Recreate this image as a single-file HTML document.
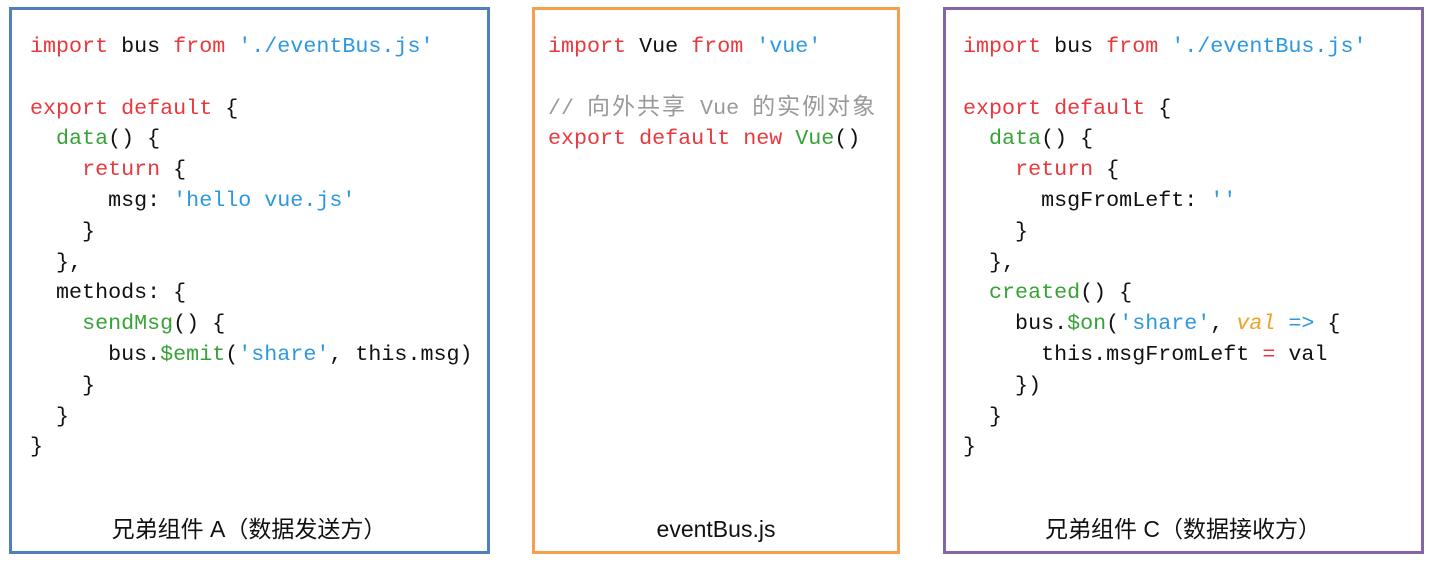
<!DOCTYPE html>
<html><head><meta charset="utf-8"><style>
body{margin:0;width:1430px;height:565px;background:#fff;position:relative;overflow:hidden}
.box{position:absolute;box-sizing:border-box;border:3px solid;}
pre{position:absolute;margin:0;font-family:"Liberation Mono","Noto Sans CJK SC",monospace;font-size:21.7px;line-height:30.8px;color:#111}
.lab{position:absolute;font-family:"Liberation Sans","Noto Sans CJK SC",sans-serif;font-size:23px;line-height:30px;height:30px;color:#111;text-align:center;top:514px}
.r{color:#e8383d}.b{color:#2b98e0}.g{color:#36a336}.o{color:#f0a020;font-style:italic}.c{color:#999}
.cj{letter-spacing:2px;font-size:23px;line-height:20px}
</style></head><body>
<div class="box" style="left:9px;top:7px;width:481px;height:547px;border-color:#4f7fbf"></div>
<div class="box" style="left:532px;top:7px;width:368px;height:547px;border-color:#f4a050"></div>
<div class="box" style="left:943px;top:7px;width:481px;height:547px;border-color:#8466a8"></div>

<pre style="left:30px;top:32px"><span class="r">import</span> bus <span class="r">from</span> <span class="b">'./eventBus.js'</span>

<span class="r">export default</span> {
  <span class="g">data</span>() {
    <span class="r">return</span> {
      msg: <span class="b">'hello vue.js'</span>
    }
  },
  methods: {
    <span class="g">sendMsg</span>() {
      bus.<span class="g">$emit</span>(<span class="b">'share'</span>, this.msg)
    }
  }
}</pre>

<pre style="left:548px;top:32px"><span class="r">import</span> Vue <span class="r">from</span> <span class="b">'vue'</span>

<span class="c">// <span class="cj">向外共享</span> Vue <span class="cj">的实例对象</span></span>
<span class="r">export default new</span> <span class="g">Vue</span>()</pre>

<pre style="left:963px;top:32px"><span class="r">import</span> bus <span class="r">from</span> <span class="b">'./eventBus.js'</span>

<span class="r">export default</span> {
  <span class="g">data</span>() {
    <span class="r">return</span> {
      msgFromLeft: <span class="b">''</span>
    }
  },
  <span class="g">created</span>() {
    bus.<span class="g">$on</span>(<span class="b">'share'</span>, <span class="o">val</span> <span class="b">=&gt;</span> {
      this.msgFromLeft <span class="r">=</span> val
    })
  }
}</pre>

<div class="lab" style="left:10px;width:478px">兄弟组件 A（数据发送方）</div>
<div class="lab" style="left:533px;width:366px">eventBus.js</div>
<div class="lab" style="left:944px;width:478px">兄弟组件 C（数据接收方）</div>
</body></html>
